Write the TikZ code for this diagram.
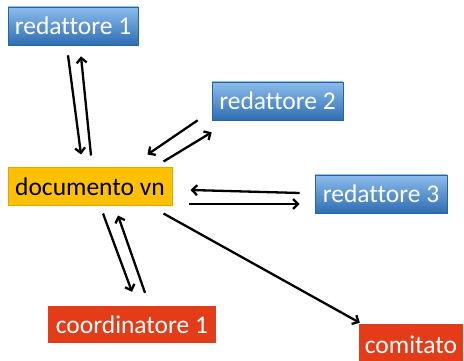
\documentclass[tikz,border=0pt]{standalone}
\usepackage{fontspec}
\setmainfont[Ligatures={NoCommon}]{Carlito}
\usetikzlibrary{arrows.meta}
\definecolor{bluetop}{RGB}{140,188,236}
\definecolor{bluemid}{RGB}{86,152,216}
\definecolor{bluebot}{RGB}{46,110,180}
\definecolor{goldfill}{RGB}{255,192,0}
\definecolor{goldedge}{RGB}{222,166,10}
\definecolor{redfill}{RGB}{228,60,24}
\tikzset{
  box/.style={rectangle, inner sep=0pt, font=\fontsize{25.5}{29}\selectfont},
  bluebox/.style={box, top color=bluetop, middle color=bluemid, bottom color=bluebot,
    draw=bluebot!90!black, line width=0.6pt, text=white},
  goldbox/.style={box, fill=goldfill, draw=goldedge, line width=1pt, text=black},
  redbox/.style={box, fill=redfill, text=white},
  link/.style={line width=2.3pt, -{Straight Barb[length=5pt,width=10pt,line width=2.3pt]}}
}
\begin{document}
\begin{tikzpicture}[x=1pt,y=-1pt]
  \useasboundingbox (0,0) rectangle (464,361);
  \begin{scope}
  \clip (0,0) rectangle (464,361);
  % boxes
  \node[bluebox, minimum width=130pt, minimum height=38pt] (r1) at (73,26) {redattore 1};
  \node[goldbox, minimum width=164pt, minimum height=37pt] (doc) at (90,186.5) {documento vn};
  \node[bluebox, minimum width=131pt, minimum height=38pt] (r2) at (277.5,101) {redattore 2};
  \node[bluebox, minimum width=132pt, minimum height=38pt] (r3) at (381,194) {redattore 3};
  \node[redbox, minimum width=168pt, minimum height=37pt] (co) at (132,324.5) {coordinatore 1};
  \node[redbox, minimum width=104pt, minimum height=40pt, text depth=0pt] (cm) at (411,344) {\raisebox{-1pt}{comitato}};
  \end{scope}
  % connectors
  \draw[link] ([xshift=-5pt,yshift=-10pt]r1.south) -- ([xshift=-9pt,yshift=13pt]doc.north);
  \draw[link] ([xshift=1pt,yshift=12pt]doc.north) -- ([xshift=8pt,yshift=-11pt]r1.south);
  \draw[link] ([xshift=-14pt]r2.south west) -- ([xshift=-25pt,yshift=13pt]doc.north east);
  \draw[link] ([xshift=-9pt,yshift=6pt]doc.north east) -- ([yshift=-12pt]r2.south west);
  \draw[link] ([xshift=-15pt,yshift=1pt]r3.west) -- ([xshift=18pt,yshift=-3.5pt]doc.east);
  \draw[link] ([xshift=16pt,yshift=-17.5pt]doc.east) -- ([xshift=-15pt,yshift=-10pt]r3.west);
  \draw[link] ([xshift=13pt,yshift=-8pt]doc.south) -- ([yshift=14pt]co.north);
  \draw[link] ([xshift=13pt,yshift=13pt]co.north) -- ([xshift=28pt,yshift=-10pt]doc.south);
  \draw[link] ([xshift=-9pt,yshift=-8pt]doc.south east) -- ([xshift=1pt,yshift=1pt]cm.north west);
\end{tikzpicture}
\end{document}
